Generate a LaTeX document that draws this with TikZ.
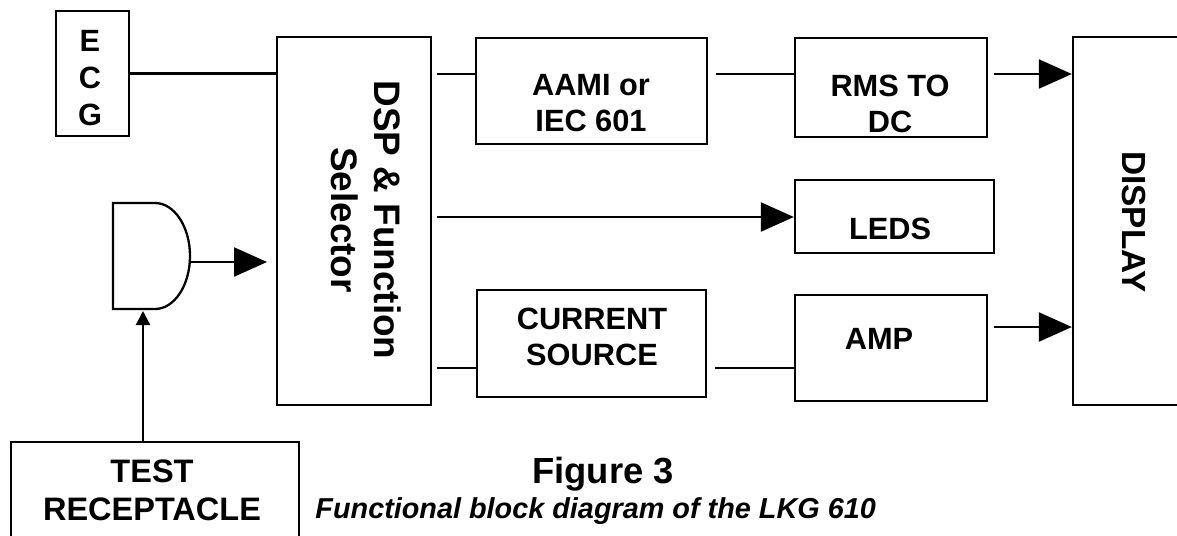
\documentclass[tikz,border=0pt]{standalone}
\usepackage{fontspec}
\setmainfont{Liberation Sans}
\usetikzlibrary{arrows.meta, positioning, fit}
\tikzset{
	blockbox/.style={draw, line width=1.3pt, inner sep=0pt, fit={#1}}
}
\tikzset{
	boxtext/.style={font=\fontsize{17.5}{20.5}\selectfont\bfseries, align=center, inner sep=0pt}
}
\tikzset{
	sidetext/.style={font=\fontsize{21}{24.5}\selectfont\bfseries, align=center, inner sep=0pt, rotate=-90}
}
\tikzset{
	wire/.style={line width=1.3pt}
}
\tikzset{
	bigtip/.style={wire, -{Triangle[length=0.66cm,width=0.58cm]}}
}

\begin{document}
\begin{tikzpicture}[x=0.02cm, y=-0.02cm]

	\path[use as bounding box] (0,0) rectangle (1177,535);
	\clip (0,0) rectangle (1177,535);

	\begin{scope}
		\node[blockbox={(56,11) (129,136)}] (ecg) {};
		\node[blockbox={(277,37) (431,405)}] (dsp) {};
		\node[blockbox={(476,38) (707,144)}] (aami) {};
		\node[blockbox={(795,38) (987,137)}] (rms) {};
		\node[blockbox={(1073,37) (1200,405)}] (disp) {};
		\node[blockbox={(795,180) (994,253)}] (leds) {};
		\node[blockbox={(477,290) (706,397)}] (src) {};
		\node[blockbox={(795,295) (987,401)}] (amp) {};
		\node[blockbox={(11,442) (299,560)}] (test) {};

		% gate
		\draw[wire] (113,203) -- (155,203)
			.. controls (174.3,203) and (190,226.7) .. (190,256)
			.. controls (190,285.3) and (174.3,309) .. (155,309)
			-- (113,309) -- cycle;
	\end{scope}

	\begin{scope}
		\node[boxtext, font=\fontsize{17.5}{21}\selectfont\bfseries] (ecgtext) at (90,78) {E\\C\\G};
		\node[sidetext] (dsptext) at (366.5,220) {DSP \& Function\\Selector};
		\node[boxtext] (aamitext) at (591,103.5) {AAMI or\\IEC 601};
		\node[boxtext] (rmstext) at (890,104) {RMS TO\\DC};
		\node[boxtext] (ledstext) at (890,228.5) {LEDS};
		\node[boxtext] (srctext) at (592,337) {CURRENT\\SOURCE};
		\node[boxtext] (amptext) at (879,339) {AMP};
		\node[boxtext, font=\fontsize{18.5}{21.5}\selectfont\bfseries] (testtext) at (152,490) {TEST\\RECEPTACLE};
		\node[sidetext, font=\fontsize{19}{22}\selectfont\bfseries] (disptext) at (1133.5,222) {DISPLAY};
	\end{scope}

	\begin{scope}
		\coordinate (dspoutA) at (437,74);
		\coordinate (dspoutB) at (437,217);
		\coordinate (dspoutC) at (437,368);
		\coordinate (aamiout) at (716,74);
		\coordinate (rmsout) at (994,74);
		\coordinate (srcout) at (715,368);
		\coordinate (ampout) at (994,327);
		\coordinate (gateout) at (190,262);
		\coordinate (gatein) at (143,311);
		\coordinate (dspin) at (267,262);

		\draw[wire] (ecg.east) -- (ecg.east -| dsp.west);
		\draw[wire] (dspoutA) -- (dspoutA -| aami.west);
		\draw[wire] (aamiout) -- (aamiout -| rms.west);
		\draw[bigtip] (rmsout) -- (rmsout -| disp.west);
		\draw[bigtip] (dspoutB) -- (dspoutB -| leds.west);
		\draw[wire] (dspoutC) -- (dspoutC -| src.west);
		\draw[wire] (srcout) -- (srcout -| amp.west);
		\draw[bigtip] (ampout) -- (ampout -| disp.west);
		\draw[bigtip] (gateout) -- (dspin);
		\draw[wire, -{Triangle[length=0.28cm,width=0.28cm]}] (gatein |- test.north) -- (gatein);
	\end{scope}

	\node[anchor=base east, font=\fontsize{20.7}{24}\selectfont\bfseries] (figtitle) at (680,483) {Figure 3};
	\node[anchor=base east, font=\fontsize{16.4}{19}\selectfont\bfseries\itshape] (figcaption) at (882,518) {Functional block diagram of the LKG 610};

\end{tikzpicture}
\end{document}
